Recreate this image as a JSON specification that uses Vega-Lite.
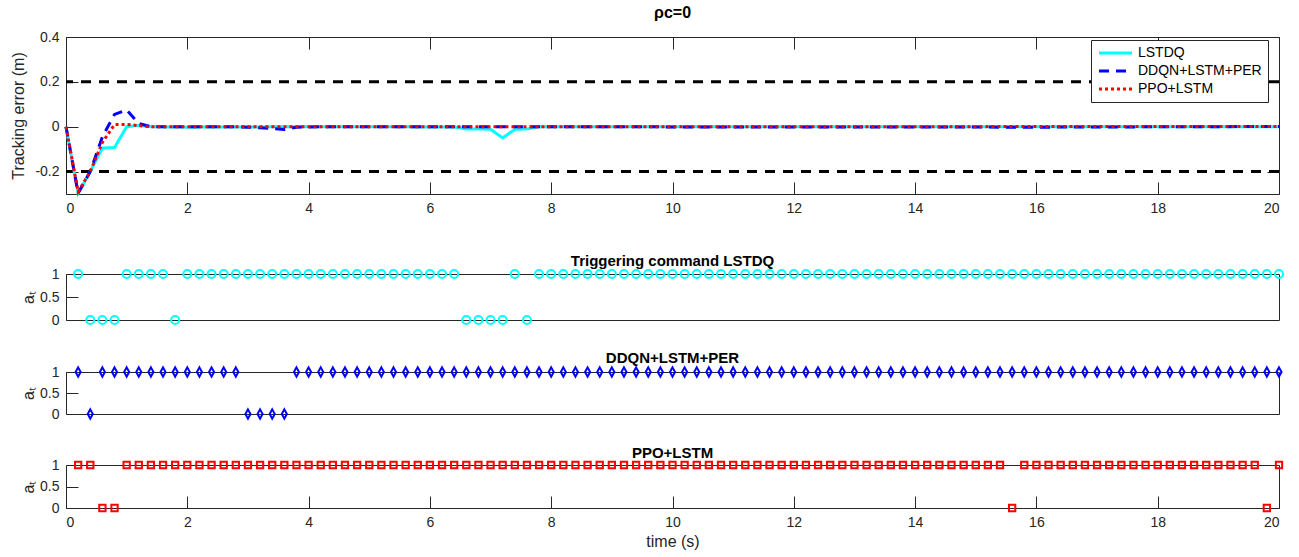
{
  "$schema": "https://vega.github.io/schema/vega-lite/v6.json",
  "padding": {"left": 10, "top": 4, "right": 5, "bottom": 4},
  "background": "white",
  "spacing": 21,
  "config": {
    "font": "Liberation Sans",
    "view": {"stroke": "#262626", "strokeWidth": 1},
    "axis": {"grid": false, "labelFontSize": 14, "labelColor": "#262626", "titleFontSize": 16, "titleFontWeight": "normal", "titleColor": "#262626", "domain": false, "tickColor": "#262626", "tickWidth": 1, "tickSize": 12, "offset": -12, "labelPadding": 7, "format": "~g", "labelExpr": "replace(datum.label, '\u2212', '-')"},
    "title": {"fontSize": 15, "fontWeight": "bold", "color": "black"},
    "legend": {"orient": "none", "legendX": 1025, "legendY": 3, "fillColor": "white", "strokeColor": "#262626", "padding": 6, "symbolType": "M-1,0L5.6,0", "symbolStrokeWidth": 3, "symbolSize": 100, "labelFontSize": 14, "labelColor": "black", "rowPadding": 4, "labelOffset": 27}
  },
  "datasets": {
    "err": [
      {"t": 0, "v": 0, "s": "LSTDQ"}, {"t": 0.2, "v": -0.297, "s": "LSTDQ"}, {"t": 0.4, "v": -0.2, "s": "LSTDQ"}, {"t": 0.6, "v": -0.095, "s": "LSTDQ"}, {"t": 0.8, "v": -0.093, "s": "LSTDQ"}, {"t": 1.0, "v": 0.0, "s": "LSTDQ"}, {"t": 1.2, "v": 0.006, "s": "LSTDQ"}, {"t": 1.4, "v": 0.0, "s": "LSTDQ"}, {"t": 2, "v": -0.002, "s": "LSTDQ"}, {"t": 4, "v": 0, "s": "LSTDQ"}, {"t": 6.4, "v": -0.001, "s": "LSTDQ"}, {"t": 6.6, "v": -0.01, "s": "LSTDQ"}, {"t": 7.0, "v": -0.011, "s": "LSTDQ"}, {"t": 7.2, "v": -0.05, "s": "LSTDQ"}, {"t": 7.4, "v": -0.012, "s": "LSTDQ"}, {"t": 7.6, "v": -0.01, "s": "LSTDQ"}, {"t": 7.8, "v": 0, "s": "LSTDQ"}, {"t": 12, "v": 0, "s": "LSTDQ"}, {"t": 20, "v": 0, "s": "LSTDQ"},
      {"t": 0, "v": 0, "s": "DDQN+LSTM+PER"}, {"t": 0.2, "v": -0.297, "s": "DDQN+LSTM+PER"}, {"t": 0.4, "v": -0.2, "s": "DDQN+LSTM+PER"}, {"t": 0.6, "v": -0.045, "s": "DDQN+LSTM+PER"}, {"t": 0.8, "v": 0.055, "s": "DDQN+LSTM+PER"}, {"t": 1.0, "v": 0.075, "s": "DDQN+LSTM+PER"}, {"t": 1.2, "v": 0.014, "s": "DDQN+LSTM+PER"}, {"t": 1.4, "v": 0.0, "s": "DDQN+LSTM+PER"}, {"t": 2.8, "v": 0.0, "s": "DDQN+LSTM+PER"}, {"t": 3.0, "v": -0.002, "s": "DDQN+LSTM+PER"}, {"t": 3.2, "v": -0.005, "s": "DDQN+LSTM+PER"}, {"t": 3.4, "v": -0.008, "s": "DDQN+LSTM+PER"}, {"t": 3.6, "v": -0.012, "s": "DDQN+LSTM+PER"}, {"t": 3.8, "v": -0.002, "s": "DDQN+LSTM+PER"}, {"t": 4.2, "v": 0, "s": "DDQN+LSTM+PER"}, {"t": 12, "v": -0.001, "s": "DDQN+LSTM+PER"}, {"t": 16, "v": -0.002, "s": "DDQN+LSTM+PER"}, {"t": 20, "v": 0.001, "s": "DDQN+LSTM+PER"},
      {"t": 0, "v": 0, "s": "PPO+LSTM"}, {"t": 0.2, "v": -0.29, "s": "PPO+LSTM"}, {"t": 0.4, "v": -0.2, "s": "PPO+LSTM"}, {"t": 0.6, "v": -0.07, "s": "PPO+LSTM"}, {"t": 0.8, "v": 0.01, "s": "PPO+LSTM"}, {"t": 1.0, "v": 0.01, "s": "PPO+LSTM"}, {"t": 1.2, "v": 0.005, "s": "PPO+LSTM"}, {"t": 1.4, "v": 0.0, "s": "PPO+LSTM"}, {"t": 7, "v": 0.0, "s": "PPO+LSTM"}, {"t": 12, "v": 0.0, "s": "PPO+LSTM"}, {"t": 20, "v": 0.001, "s": "PPO+LSTM"}
    ],
    "act": [
      {"t": 0.2, "L": 1, "D": 1, "P": 1}, {"t": 0.4, "L": 0, "D": 0, "P": 1}, {"t": 0.6, "L": 0, "D": 1, "P": 0}, {"t": 0.8, "L": 0, "D": 1, "P": 0}, {"t": 1, "L": 1, "D": 1, "P": 1},
      {"t": 1.2, "L": 1, "D": 1, "P": 1}, {"t": 1.4, "L": 1, "D": 1, "P": 1}, {"t": 1.6, "L": 1, "D": 1, "P": 1}, {"t": 1.8, "L": 0, "D": 1, "P": 1}, {"t": 2, "L": 1, "D": 1, "P": 1},
      {"t": 2.2, "L": 1, "D": 1, "P": 1}, {"t": 2.4, "L": 1, "D": 1, "P": 1}, {"t": 2.6, "L": 1, "D": 1, "P": 1}, {"t": 2.8, "L": 1, "D": 1, "P": 1}, {"t": 3, "L": 1, "D": 0, "P": 1},
      {"t": 3.2, "L": 1, "D": 0, "P": 1}, {"t": 3.4, "L": 1, "D": 0, "P": 1}, {"t": 3.6, "L": 1, "D": 0, "P": 1}, {"t": 3.8, "L": 1, "D": 1, "P": 1}, {"t": 4, "L": 1, "D": 1, "P": 1},
      {"t": 4.2, "L": 1, "D": 1, "P": 1}, {"t": 4.4, "L": 1, "D": 1, "P": 1}, {"t": 4.6, "L": 1, "D": 1, "P": 1}, {"t": 4.8, "L": 1, "D": 1, "P": 1}, {"t": 5, "L": 1, "D": 1, "P": 1},
      {"t": 5.2, "L": 1, "D": 1, "P": 1}, {"t": 5.4, "L": 1, "D": 1, "P": 1}, {"t": 5.6, "L": 1, "D": 1, "P": 1}, {"t": 5.8, "L": 1, "D": 1, "P": 1}, {"t": 6, "L": 1, "D": 1, "P": 1},
      {"t": 6.2, "L": 1, "D": 1, "P": 1}, {"t": 6.4, "L": 1, "D": 1, "P": 1}, {"t": 6.6, "L": 0, "D": 1, "P": 1}, {"t": 6.8, "L": 0, "D": 1, "P": 1}, {"t": 7, "L": 0, "D": 1, "P": 1},
      {"t": 7.2, "L": 0, "D": 1, "P": 1}, {"t": 7.4, "L": 1, "D": 1, "P": 1}, {"t": 7.6, "L": 0, "D": 1, "P": 1}, {"t": 7.8, "L": 1, "D": 1, "P": 1}, {"t": 8, "L": 1, "D": 1, "P": 1},
      {"t": 8.2, "L": 1, "D": 1, "P": 1}, {"t": 8.4, "L": 1, "D": 1, "P": 1}, {"t": 8.6, "L": 1, "D": 1, "P": 1}, {"t": 8.8, "L": 1, "D": 1, "P": 1}, {"t": 9, "L": 1, "D": 1, "P": 1},
      {"t": 9.2, "L": 1, "D": 1, "P": 1}, {"t": 9.4, "L": 1, "D": 1, "P": 1}, {"t": 9.6, "L": 1, "D": 1, "P": 1}, {"t": 9.8, "L": 1, "D": 1, "P": 1}, {"t": 10, "L": 1, "D": 1, "P": 1},
      {"t": 10.2, "L": 1, "D": 1, "P": 1}, {"t": 10.4, "L": 1, "D": 1, "P": 1}, {"t": 10.6, "L": 1, "D": 1, "P": 1}, {"t": 10.8, "L": 1, "D": 1, "P": 1}, {"t": 11, "L": 1, "D": 1, "P": 1},
      {"t": 11.2, "L": 1, "D": 1, "P": 1}, {"t": 11.4, "L": 1, "D": 1, "P": 1}, {"t": 11.6, "L": 1, "D": 1, "P": 1}, {"t": 11.8, "L": 1, "D": 1, "P": 1}, {"t": 12, "L": 1, "D": 1, "P": 1},
      {"t": 12.2, "L": 1, "D": 1, "P": 1}, {"t": 12.4, "L": 1, "D": 1, "P": 1}, {"t": 12.6, "L": 1, "D": 1, "P": 1}, {"t": 12.8, "L": 1, "D": 1, "P": 1}, {"t": 13, "L": 1, "D": 1, "P": 1},
      {"t": 13.2, "L": 1, "D": 1, "P": 1}, {"t": 13.4, "L": 1, "D": 1, "P": 1}, {"t": 13.6, "L": 1, "D": 1, "P": 1}, {"t": 13.8, "L": 1, "D": 1, "P": 1}, {"t": 14, "L": 1, "D": 1, "P": 1},
      {"t": 14.2, "L": 1, "D": 1, "P": 1}, {"t": 14.4, "L": 1, "D": 1, "P": 1}, {"t": 14.6, "L": 1, "D": 1, "P": 1}, {"t": 14.8, "L": 1, "D": 1, "P": 1}, {"t": 15, "L": 1, "D": 1, "P": 1},
      {"t": 15.2, "L": 1, "D": 1, "P": 1}, {"t": 15.4, "L": 1, "D": 1, "P": 1}, {"t": 15.6, "L": 1, "D": 1, "P": 0}, {"t": 15.8, "L": 1, "D": 1, "P": 1}, {"t": 16, "L": 1, "D": 1, "P": 1},
      {"t": 16.2, "L": 1, "D": 1, "P": 1}, {"t": 16.4, "L": 1, "D": 1, "P": 1}, {"t": 16.6, "L": 1, "D": 1, "P": 1}, {"t": 16.8, "L": 1, "D": 1, "P": 1}, {"t": 17, "L": 1, "D": 1, "P": 1},
      {"t": 17.2, "L": 1, "D": 1, "P": 1}, {"t": 17.4, "L": 1, "D": 1, "P": 1}, {"t": 17.6, "L": 1, "D": 1, "P": 1}, {"t": 17.8, "L": 1, "D": 1, "P": 1}, {"t": 18, "L": 1, "D": 1, "P": 1},
      {"t": 18.2, "L": 1, "D": 1, "P": 1}, {"t": 18.4, "L": 1, "D": 1, "P": 1}, {"t": 18.6, "L": 1, "D": 1, "P": 1}, {"t": 18.8, "L": 1, "D": 1, "P": 1}, {"t": 19, "L": 1, "D": 1, "P": 1},
      {"t": 19.2, "L": 1, "D": 1, "P": 1}, {"t": 19.4, "L": 1, "D": 1, "P": 1}, {"t": 19.6, "L": 1, "D": 1, "P": 1}, {"t": 19.8, "L": 1, "D": 1, "P": 0}, {"t": 20, "L": 1, "D": 1, "P": 1}
    ]
  },
  "vconcat": [
    {
      "width": 1213,
      "height": 157,
      "title": {"text": "ρc=0", "offset": 9, "fontSize": 16},
      "resolve": {"axis": {"x": "independent", "y": "independent"}},
      "layer": [
        {"data": {"values": [{}]}, "mark": {"type": "rule", "color": "black", "strokeWidth": 3, "strokeDash": [10, 8]}, "encoding": {"y": {"datum": 0.2, "type": "quantitative", "scale": {"domain": [-0.3, 0.4]}, "axis": null}}},
        {"data": {"values": [{}]}, "mark": {"type": "rule", "color": "black", "strokeWidth": 3, "strokeDash": [10, 8]}, "encoding": {"y": {"datum": -0.2, "type": "quantitative", "scale": {"domain": [-0.3, 0.4]}, "axis": null}}},
        {
          "data": {"name": "err"},
          "transform": [{"filter": "datum.s === 'LSTDQ'"}],
          "mark": {"type": "line", "strokeWidth": 3},
          "encoding": {
            "x": {"field": "t", "type": "quantitative", "scale": {"domain": [0, 20], "nice": false}, "axis": {"values": [0, 2, 4, 6, 8, 10, 12, 14, 16, 18, 20], "title": " ", "titleFontSize": 17, "titlePadding": 0}},
            "y": {"field": "v", "type": "quantitative", "scale": {"domain": [-0.3, 0.4], "nice": false}, "axis": {"values": [-0.2, 0, 0.2, 0.4], "title": "Tracking error (m)", "titlePadding": 8}},
            "color": {"field": "s", "type": "nominal", "title": null, "scale": {"domain": ["LSTDQ", "DDQN+LSTM+PER", "PPO+LSTM"], "range": ["#00FFFF", "#0000FF", "#FF0000"]}},
            "strokeDash": {"field": "s", "type": "nominal", "title": null, "scale": {"domain": ["LSTDQ", "DDQN+LSTM+PER", "PPO+LSTM"], "range": [[1, 0], [10, 7], [3, 3]]}}
          }
        },
        {
          "data": {"name": "err"},
          "transform": [{"filter": "datum.s === 'DDQN+LSTM+PER'"}],
          "mark": {"type": "line", "strokeWidth": 3},
          "encoding": {
            "x": {"field": "t", "type": "quantitative", "axis": {"orient": "top", "labels": false, "title": null, "values": [0, 2, 4, 6, 8, 10, 12, 14, 16, 18, 20]}},
            "y": {"field": "v", "type": "quantitative", "axis": {"orient": "right", "labels": false, "title": null, "values": [-0.2, 0, 0.2, 0.4]}},
            "color": {"field": "s", "type": "nominal", "title": null},
            "strokeDash": {"field": "s", "type": "nominal", "title": null}
          }
        },
        {
          "data": {"name": "err"},
          "transform": [{"filter": "datum.s === 'PPO+LSTM'"}],
          "mark": {"type": "line", "strokeWidth": 3},
          "encoding": {
            "x": {"field": "t", "type": "quantitative", "axis": null},
            "y": {"field": "v", "type": "quantitative", "axis": null},
            "color": {"field": "s", "type": "nominal", "title": null},
            "strokeDash": {"field": "s", "type": "nominal", "title": null}
          }
        }
      ]
    },
    {
      "width": 1213,
      "height": 46,
      "title": {"text": "Triggering command LSTDQ", "offset": -3},
      "data": {"name": "act"},
      "mark": {"type": "point", "shape": "circle", "filled": false, "color": "#00FFFF", "strokeWidth": 2, "size": 64, "opacity": 1},
      "encoding": {
        "x": {"field": "t", "type": "quantitative", "scale": {"domain": [0, 20], "nice": false}, "axis": {"labels": false, "ticks": false, "title": null}},
        "y": {"field": "L", "type": "quantitative", "scale": {"domain": [0, 1], "nice": false}, "axis": {"values": [0, 0.5, 1], "title": "aₜ", "titlePadding": 3}}
      }
    },
    {
      "width": 1213,
      "height": 42,
      "title": {"text": "DDQN+LSTM+PER", "offset": -3},
      "data": {"name": "act"},
      "mark": {"type": "point", "shape": "M0,-1L0.55,0L0,1L-0.55,0Z", "filled": false, "color": "#0000FF", "strokeWidth": 2, "size": 85, "opacity": 1},
      "encoding": {
        "x": {"field": "t", "type": "quantitative", "scale": {"domain": [0, 20], "nice": false}, "axis": {"labels": false, "ticks": false, "title": null}},
        "y": {"field": "D", "type": "quantitative", "scale": {"domain": [0, 1], "nice": false}, "axis": {"values": [0, 0.5, 1], "title": "aₜ", "titlePadding": 3}}
      }
    },
    {
      "width": 1213,
      "height": 43,
      "title": {"text": "PPO+LSTM", "offset": -3},
      "data": {"name": "act"},
      "mark": {"type": "point", "shape": "square", "filled": false, "color": "#FF0000", "strokeWidth": 2, "size": 40, "opacity": 1},
      "encoding": {
        "x": {"field": "t", "type": "quantitative", "scale": {"domain": [0, 20], "nice": false}, "axis": {"values": [0, 2, 4, 6, 8, 10, 12, 14, 16, 18, 20], "title": "time (s)", "titlePadding": 4}},
        "y": {"field": "P", "type": "quantitative", "scale": {"domain": [0, 1], "nice": false}, "axis": {"values": [0, 0.5, 1], "title": "aₜ", "titlePadding": 3}}
      }
    }
  ]
}
